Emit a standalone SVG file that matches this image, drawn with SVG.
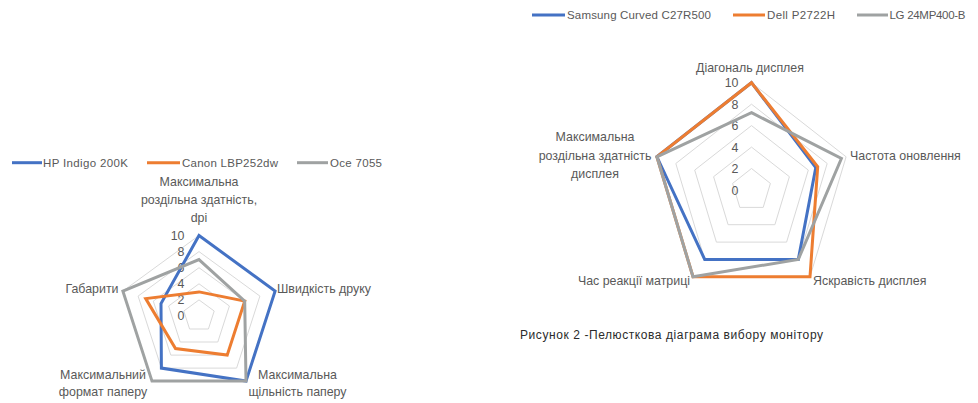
<svg xmlns="http://www.w3.org/2000/svg" width="978" height="403" viewBox="0 0 978 403">
<style>
text{font-family:"Liberation Sans",Arial,sans-serif;font-size:12.4px;fill:#595959}
.grid{fill:none;stroke:#d9d9d9;stroke-width:1}
.s{fill:none;stroke-width:3;stroke-linejoin:miter}
.b{stroke:#4472c4}.o{stroke:#ed7d31}.g{stroke:#9fa2a2}
.leg{stroke-width:3}
.m{text-anchor:middle}.e{text-anchor:end}
.lg{font-size:11.5px}
.cap{fill:#2b2b2b;font-size:12px}
</style>
<rect width="978" height="403" fill="#ffffff"/>

<g id="chart1">
  <g id="legend1">
    <line class="leg b" x1="12" y1="162.7" x2="42" y2="162.7"/>
    <text class="lg" x="43" y="166.5" textLength="85">HP Indigo 200K</text>
    <line class="leg o" x1="147" y1="162.7" x2="180" y2="162.7"/>
    <text class="lg" x="182" y="166.5" textLength="96">Canon LBP252dw</text>
    <line class="leg g" x1="297" y1="162.7" x2="328" y2="162.7"/>
    <text class="lg" x="330" y="166.5" textLength="52">Oce 7055</text>
  </g>
  <g id="grid1">
    <polygon class="grid" points="199,235.5 275.1,291.1 246,381.1 152,381.1 122.9,291.1"/>
    <polygon class="grid" points="199,251.6 259.9,296.1 236.6,368.1 161.4,368.1 138.1,296.1"/>
    <polygon class="grid" points="199,267.7 244.7,301.1 227.2,355.1 170.8,355.1 153.3,301.1"/>
    <polygon class="grid" points="199,283.8 229.4,306 217.8,342 180.2,342 168.6,306"/>
    <polygon class="grid" points="199,299.9 214.2,311 208.4,329 189.6,329 183.8,311"/>
  </g>
  <g id="ticks1">
    <text class="e" x="184.5" y="239.7">10</text>
    <text class="e" x="184.5" y="255.8">8</text>
    <text class="e" x="184.5" y="271.9">6</text>
    <text class="e" x="184.5" y="288">4</text>
    <text class="e" x="184.5" y="304.1">2</text>
    <text class="e" x="184.5" y="320.2">0</text>
  </g>
  <g id="series1">
    <polygon class="s b" points="199,235.5 275.1,291.1 246,381.1 161.4,368.1 161,303.6"/>
    <polygon class="s o" points="199,291.9 244.7,301.1 227.2,355.1 175.5,348.6 145.7,298.6"/>
    <polygon class="s g" points="199,259.6 244.7,301.1 246,381.1 152,381.1 122.9,291.1"/>
  </g>
  <g id="axis1-labels">
    <text class="m" x="199" y="186">Максимальна</text>
    <text class="m" x="199" y="204">роздільна здатність,</text>
    <text class="m" x="199" y="222">dpi</text>
    <text x="277" y="292.5">Швидкість друку</text>
    <text class="m" x="297.5" y="378.5">Максимальна</text>
    <text class="m" x="297.5" y="396">щільність паперу</text>
    <text class="m" x="103" y="378.5">Максимальний</text>
    <text class="m" x="103" y="396">формат паперу</text>
    <text class="e" x="118.5" y="292.5">Габарити</text>
  </g>
</g>

<g id="chart2">
  <g id="legend2">
    <line class="leg b" x1="532" y1="15" x2="565" y2="15"/>
    <text class="lg" x="567" y="19" textLength="144">Samsung Curved C27R500</text>
    <line class="leg o" x1="733" y1="15" x2="765" y2="15"/>
    <text class="lg" x="767" y="19" textLength="68">Dell P2722H</text>
    <line class="leg g" x1="857" y1="15" x2="888" y2="15"/>
    <text class="lg" x="889.5" y="19" textLength="76">LG 24MP400-B</text>
  </g>
  <g id="grid2">
    <polygon class="grid" points="751.5,82.7 846.1,156.8 810,276.8 693,276.8 656.9,156.8"/>
    <polygon class="grid" points="751.5,104.2 827.2,163.5 798.3,259.4 704.7,259.4 675.8,163.5"/>
    <polygon class="grid" points="751.5,125.6 808.3,170.1 786.6,242.1 716.4,242.1 694.7,170.1"/>
    <polygon class="grid" points="751.5,147.1 789.4,176.7 774.9,224.7 728.1,224.7 713.6,176.7"/>
    <polygon class="grid" points="751.5,168.5 770.4,183.4 763.2,207.4 739.8,207.4 732.6,183.4"/>
  </g>
  <g id="ticks2">
    <text class="e" x="738.5" y="87">10</text>
    <text class="e" x="738.5" y="108.5">8</text>
    <text class="e" x="738.5" y="130">6</text>
    <text class="e" x="738.5" y="151.5">4</text>
    <text class="e" x="738.5" y="173">2</text>
    <text class="e" x="738.5" y="194.5">0</text>
  </g>
  <g id="series2">
    <polygon class="s b" points="751.5,82.7 815.8,167.5 798.3,259.4 704.7,259.4 656.9,156.8"/>
    <polygon class="s o" points="751.5,82.7 817.7,166.8 810,276.8 693,276.8 656.9,156.8"/>
    <polygon class="s g" points="751.5,112.7 841.4,158.5 798.3,259.4 693,276.8 656.9,156.8"/>
  </g>
  <g id="axis2-labels">
    <text class="m" x="750" y="71.5">Діагональ дисплея</text>
    <text x="850" y="159.5">Частота оновлення</text>
    <text x="813" y="285">Яскравість дисплея</text>
    <text class="e" x="690" y="285">Час реакції матриці</text>
    <text class="m" x="595" y="141">Максимальна</text>
    <text class="m" x="595" y="159.5">роздільна здатність</text>
    <text class="m" x="595" y="178">дисплея</text>
  </g>
</g>

<text id="caption" class="cap" x="520" y="339" textLength="303">Рисунок 2 -Пелюсткова діаграма вибору монітору</text>
</svg>
